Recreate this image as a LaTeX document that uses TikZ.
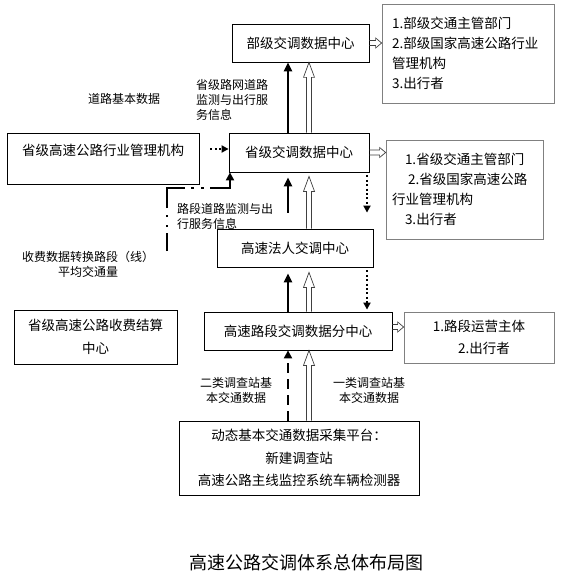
\documentclass[tikz,border=0pt]{standalone}
\usepackage{fontspec}
\setmainfont{Noto Sans CJK SC}
\usepackage{tikz}
\usetikzlibrary{arrows.meta, calc, positioning}

\tikzset{
    box/.style = {draw, line width=0.8pt, inner sep=0pt, align=center, font=\fontsize{13.5}{20}\selectfont},
    utenti/.style = {draw=black!50, line width=0.8pt, inner ysep=0pt, align=left, font=\fontsize{13.5}{20}\selectfont},
    etichetta/.style = {inner sep=0pt, font=\fontsize{12}{15}\selectfont},
    pieno/.style = {line width=2.4pt, -{Triangle[length=9pt, width=8pt]}},
    puntini/.style = {line width=2pt, dash pattern=on 2pt off 2.4pt, -{Triangle[length=7pt, width=7pt]}},
    tratteggio/.style = {line width=2.5pt, dash pattern=on 10pt off 6pt, -{Triangle[length=8pt, width=8pt]}},
    trattopunto/.style = {line width=2.7pt, dash pattern=on 38pt off 6pt on 2.5pt off 7.5pt on 2.5pt off 6.5pt, dash phase=20pt, -{Triangle[length=8pt, width=8pt]}},
    vuota/.style = {draw=black!75, line width=0.7pt, line join=miter}
}

% freccia vuota verso l'alto
\newcommand{\frecciasu}[2]{%
    \draw[vuota] let \p1=(#1), \p2=(#2) in
        (\x1-2.5pt,\y1) -- (\x1-2.5pt,\y2-15pt) -- (\x1-5.5pt,\y2-15pt) -- (\x1,\y2)
        -- (\x1+5.5pt,\y2-15pt) -- (\x1+2.5pt,\y2-15pt) -- (\x1+2.5pt,\y1);}
% freccia vuota verso destra
\newcommand{\frecciadestra}[2]{%
    \draw[vuota] let \p1=(#1), \p2=(#2) in
        (\x1,\y1+2.5pt) -- (\x2-6pt,\y1+2.5pt) -- (\x2-6pt,\y1+5pt) -- (\x2,\y1)
        -- (\x2-6pt,\y1-5pt) -- (\x2-6pt,\y1-2.5pt) -- (\x1,\y1-2.5pt);}

\begin{document}
\begin{tikzpicture}[x=1pt, y=-1pt]
    % Parametri
    \pgfmathsetmacro{\xnero}{288}
    \pgfmathsetmacro{\xvuota}{309}
    \pgfmathsetmacro{\xpunti}{367}
    \useasboundingbox (0,0) rectangle (560,580);
    \coordinate (cn) at (\xnero,0);
    \coordinate (cv) at (\xvuota,0);
    \coordinate (cp) at (\xpunti,0);
    \coordinate (ypunti) at (0,149);

    % Centri
    \node[box, minimum width=137pt, minimum height=38pt] (bu) at (300.5,43) {部级交调数据中心};
    \node[box, minimum width=140pt, minimum height=39pt] (sheng) at (299,152.5) {省级交调数据中心};
    \node[box, minimum width=156pt, minimum height=38pt] (faren) at (295,248) {高速法人交调中心};
    \node[box, minimum width=188pt, minimum height=38pt] (luduan) at (298,331) {高速路段交调数据分中心};
    \node[box, minimum width=240pt, minimum height=74pt, font=\fontsize{13.5}{22.5}\selectfont] (caiji) at (299,458)
        {动态基本交通数据采集平台：\\新建调查站\\高速公路主线监控系统车辆检测器};
    \node[box, minimum width=192pt, minimum height=51pt, font=\fontsize{13.5}{13}\selectfont] (hangye) at (103,158.5)
        {省级高速公路行业管理机构\\\strut};
    \node[box, minimum width=163pt, minimum height=54pt, font=\fontsize{13.5}{23}\selectfont] (shoufei) at (95.5,337)
        {省级高速公路收费结算\\中心};

    % Utenti
    \node[utenti, text width=152pt, inner xsep=10pt, minimum height=99pt] (ubu) at (468,53.5)
        {1.部级交通主管部门\\2.部级国家高速公路行业\\管理机构\\3.出行者};
    \node[utenti, text width=145pt, inner xsep=6pt, minimum height=99pt] (usheng) at (464.5,189.5)
        {\hspace*{13pt}1.省级交通主管部门\\\hspace*{16pt}2.省级国家高速公路\\行业管理机构\\\hspace*{13pt}3.出行者};
    \node[utenti, align=center, text width=130pt, inner xsep=10pt, minimum height=51pt, font=\fontsize{13.5}{22}\selectfont] (uluduan) at (479,337.5)
        {1.路段运营主体\\\hspace*{10pt}2.出行者};

    % Etichette
    \node[etichetta] (datistrada) at (124,99) {道路基本数据};
    \node[etichetta, align=left, anchor=west] (infoprov) at (196,99.5) {省级路网道路\\监测与出行服\\务信息};
    \node[etichetta, align=left, anchor=west] (infotratto) at (177,216) {路段道路监测与出\\行服务信息};
    \node[etichetta, align=center] (pedaggi) at (88,264) {收费数据转换路段（线）\\平均交通量};
    \node[etichetta, align=center] (secondaclasse) at (236,390.5) {二类调查站基\\本交通数据};
    \node[etichetta, align=center] (primaclasse) at (369,390.5) {一类调查站基\\本交通数据};
    \node[font=\fontsize{18}{22}\selectfont] (titolo) at (306,563) {高速公路交调体系总体布局图};

    % Frecce piene
    \draw[pieno] (sheng.north -| cn) -- (bu.south -| cn);
    \draw[pieno, shorten <=16pt, shorten >=5pt] (faren.north -| cn) -- (sheng.south -| cn);
    \draw[pieno, shorten >=6pt] (luduan.north -| cn) -- (faren.south -| cn);
    \draw[tratteggio] (caiji.north -| cn) -- (luduan.south -| cn);

    % Frecce vuote
    \frecciasu{sheng.north -| cv}{bu.south -| cv}
    \frecciasu{faren.north -| cv}{$(sheng.south -| cv)+(0,4)$}
    \frecciasu{luduan.north -| cv}{$(faren.south -| cv)+(0,5)$}
    \frecciasu{caiji.north -| cv}{luduan.south -| cv}
    \frecciadestra{bu.east}{ubu.west}
    \frecciadestra{sheng.east}{usheng.west}
    \frecciadestra{$(luduan.east)+(0,-4)$}{uluduan.west}

    % Frecce puntinate
    \draw[puntini, shorten <=3pt, shorten >=16pt] (sheng.south -| cp) -- (faren.north -| cp);
    \draw[puntini, shorten <=3pt, shorten >=2pt] (faren.south -| cp) -- (luduan.north -| cp);
    \draw[puntini, shorten <=11pt] (hangye.east |- ypunti) -- (sheng.west |- ypunti);

    % Pedaggi
    \coordinate (pedstart) at (167,251);
    \coordinate (pedgomito) at (230,188);
    \draw[trattopunto] (pedstart) |- (pedgomito) -- (pedgomito |- sheng.south);
\end{tikzpicture}
\end{document}
